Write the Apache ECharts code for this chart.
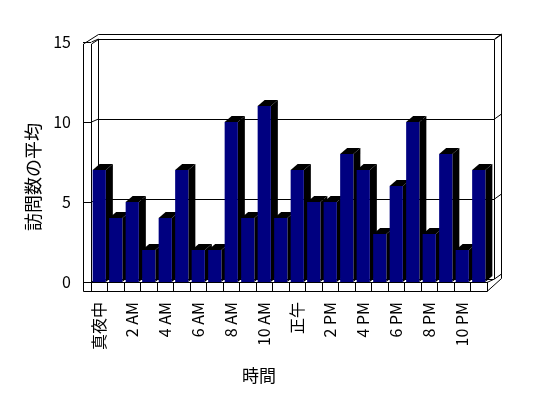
<!DOCTYPE html>
<html>
<head>
<meta charset="utf-8">
<script src="https://cdn.jsdelivr.net/npm/echarts@6/dist/echarts.min.js"></script>
<style>
  html, body { margin: 0; padding: 0; background: #fff; }
  #myChart { width: 548px; height: 398px; }
</style>
</head>
<body>
<div id="myChart"></div>
<script>
// 時間ごとの訪問数
var hours = ['真夜中','1 AM','2 AM','3 AM','4 AM','5 AM','6 AM','7 AM','8 AM','9 AM','10 AM','11 AM',
             '正午','1 PM','2 PM','3 PM','4 PM','5 PM','6 PM','7 PM','8 PM','9 PM','10 PM','11 PM'];
var visits = [7,4,5,2,4,7,2,2,10,4,11,4,7,5,5,8,7,3,6,10,3,8,2,7];
var yTicks = [0,5,10,15];

var font = '"Noto Sans CJK JP", "Noto Sans", sans-serif';
var black = '#000';

// 立体の棒: 前面 + 上面 + 側面
function renderBar(params, api) {
  var base = api.coord([api.value(0), 0]);
  var top = api.coord([api.value(0), api.value(1)]);
  var band = api.size([1, 0])[0];
  var w = band * 0.8;
  var l = base[0] - w / 2, r = base[0] + w / 2;
  var dx = 7, dy = 6;
  return {
    type: 'group',
    children: [
      { type: 'polygon', shape: { points: [[r, base[1]], [r + dx, base[1] - dy], [r + dx, top[1] - dy], [r, top[1]]] }, style: { fill: black } },
      { type: 'polygon', shape: { points: [[l, top[1]], [l + dx, top[1] - dy], [r + dx, top[1] - dy], [r, top[1]]] }, style: { fill: black } },
      { type: 'rect', shape: { x: l, y: top[1], width: w, height: base[1] - top[1] }, style: { fill: '#000080' } }
    ]
  };
}

var myChart = echarts.init(document.getElementById('myChart'));
var line = { stroke: black, lineWidth: 1, fill: null };

var option = {
  backgroundColor: '#fff',
  animation: false,
  grid: [
    { left: 91, top: 42, width: 396, height: 240 },   // 前面
    { left: 98, top: 39, width: 396, height: 240 }    // 奥の壁
  ],
  xAxis: [
    {
      type: 'category', gridIndex: 0, data: hours,
      axisLine: { show: true, lineStyle: { color: black } },
      axisTick: { show: true, interval: 0, length: 9.5, lineStyle: { color: black } },
      axisLabel: { interval: 1, rotate: 90, margin: 20, color: black, fontSize: 16, fontFamily: font }
    },
    { type: 'value', gridIndex: 1, show: false }
  ],
  yAxis: [
    {
      type: 'value', gridIndex: 0, min: 0, max: 15, interval: 5, offset: 8,
      axisLine: { show: false },
      axisTick: { show: true, inside: true, length: 8, lineStyle: { color: black } },
      axisLabel: { margin: 12, color: black, fontSize: 16, fontFamily: font },
      splitLine: { show: false }
    },
    {
      type: 'value', gridIndex: 1, min: 0, max: 15, interval: 5,
      axisLine: { show: false }, axisTick: { show: false }, axisLabel: { show: false },
      splitLine: { show: true, lineStyle: { color: black, width: 1 } }
    }
  ],
  series: [
    {
      type: 'custom', xAxisIndex: 0, yAxisIndex: 0,
      renderItem: renderBar,
      encode: { x: 0, y: 1 },
      data: visits.map(function (v, i) { return [i, v]; }),
      z: 3
    }
  ],
  graphic: [
    // 枠
    { type: 'polyline', shape: { points: [[83.5,44],[98.5,34.5],[501.5,34.5],[501.5,278.5],[487,291.5],[83.5,291.5],[83.5,44]] }, style: line, z: 1 },
    { type: 'polyline', shape: { points: [[91.5,282],[91.5,44],[98.5,39.5]] }, style: line, z: 1 },
    { type: 'polyline', shape: { points: [[98.5,279],[98.5,39.5]] }, style: line, z: 1 },
    { type: 'polyline', shape: { points: [[494.5,39.5],[494.5,279]] }, style: line, z: 1 },
    { type: 'polyline', shape: { points: [[494.5,39.5],[501.5,34.5]] }, style: line, z: 1 },
    { type: 'polyline', shape: { points: [[487,282.5],[494.5,279]] }, style: line, z: 1 },
    // 軸タイトル
    { type: 'text', x: 33, y: 177, rotation: Math.PI / 2,
      style: { text: '訪問数の平均', fill: black, font: '18px ' + font, align: 'center', verticalAlign: 'middle' } },
    { type: 'text', x: 259, y: 376,
      style: { text: '時間', fill: black, font: '17px ' + font, align: 'center', verticalAlign: 'middle' } }
  ]
};
myChart.setOption(option);

// 壁の上の目盛り線のつなぎ
var joins = [];
yTicks.forEach(function (v) {
  var fy = myChart.convertToPixel({ yAxisIndex: 0 }, v);
  var by = myChart.convertToPixel({ yAxisIndex: 1 }, v);
  joins.push({ type: 'polyline', shape: { points: [[91.5, fy], [98.5, by]] }, style: line, z: 1 });
  joins.push({ type: 'polyline', shape: { points: [[494.5, by], [501.5, by - 5]] }, style: line, z: 1 });
});
myChart.setOption({ graphic: option.graphic.concat(joins) });
</script>
</body>
</html>
